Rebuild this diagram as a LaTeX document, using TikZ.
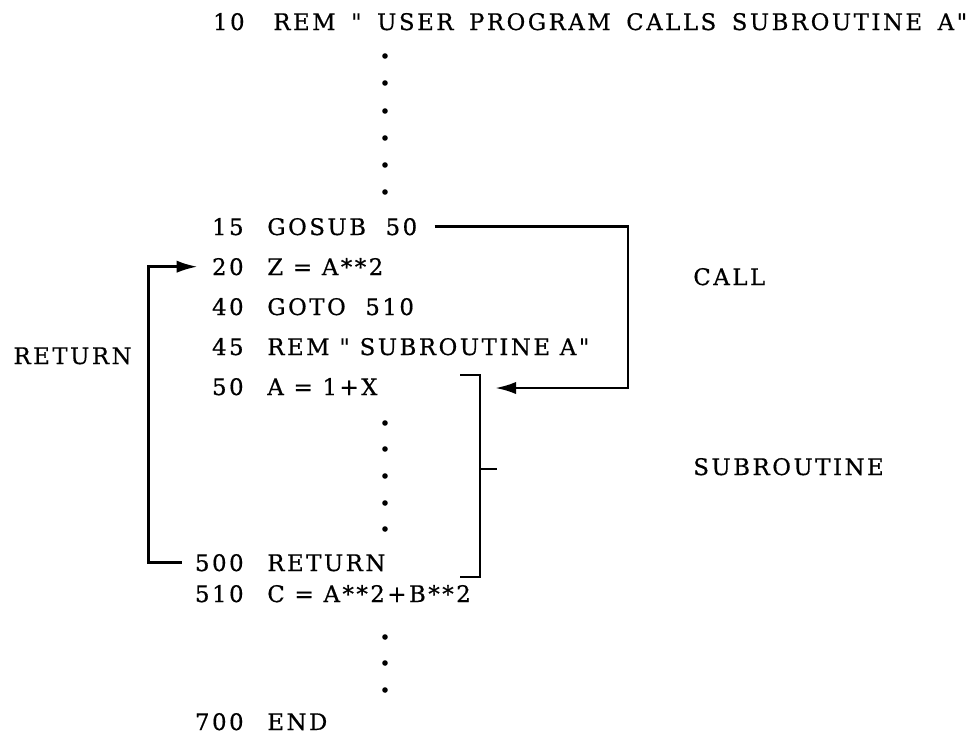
\documentclass[tikz,border=0pt]{standalone}
\usepackage{fontspec}
\setmainfont{DejaVu Serif}[LetterSpace=11, Ligatures=TeXOff, FakeBold=0.6]
\usetikzlibrary{arrows.meta,positioning}

\begin{document}
\begin{tikzpicture}[
    x=0.02cm, y=-0.02cm,
    code/.style = {inner sep=0pt, font=\fontsize{13}{15}\selectfont},
    num/.style = {code, anchor=base east},
    stmt/.style = {code, anchor=base west},
    tag/.style = {code, anchor=base west},
    line/.style = {draw, line width=1.6pt, -{Latex[length=12pt,width=7pt]}},
    bracket/.style = {draw, line width=1.6pt}
]
\useasboundingbox (0,0) rectangle (971,738);

% program listing
\node[num] (n10) at (245,30) {10};
\node[right=0.56cm of n10.base east, stmt] (s10) {\spaceskip=0.68em REM " USER PROGRAM CALLS SUBROUTINE A"};
\node[num] (n15) at (244,235) {15};
\node[right=0.46cm of n15.base east, stmt] (s15) {GOSUB\ \ 50};
\node[num] (n20) at (244,275) {20};
\node[right=0.46cm of n20.base east, stmt] (s20) {Z = A**2};
\node[num] (n40) at (244,315) {40};
\node[right=0.46cm of n40.base east, stmt] (s40) {GOTO\ \ 510};
\node[num] (n45) at (244,355) {45};
\node[right=0.46cm of n45.base east, stmt] (s45) {REM " SUBROUTINE A"};
\node[num] (n50) at (244,395) {50};
\node[right=0.46cm of n50.base east, stmt] (s50) {A = 1+X};
\node[num] (n500) at (244,571) {500};
\node[right=0.46cm of n500.base east, stmt] (s500) {RETURN};
\node[num] (n510) at (244,602) {510};
\node[right=0.46cm of n510.base east, stmt] (s510) {C = A**2+B**2};
\node[num] (n700) at (244,730) {700};
\node[right=0.46cm of n700.base east, stmt] (s700) {END};

% elided lines
\foreach \y in {56,83,111,138,165,192,423,449,476,503,529,637,663,690}
    \fill (385,\y) circle (2.8);

% side labels
\node[tag, anchor=base east] (ret) at (132,364) {RETURN};
\node[tag] (call) at (693,285) {CALL};
\node[tag] (sub) at (693,475) {SUBROUTINE};

% call and return
\coordinate (callx) at (628,0);
\coordinate (calltip) at (495,388);
\path[line, shorten <=0.34cm] (s15.east) -- (s15.east -| callx) |- (calltip);
\path[line, shorten <=0.26cm, shorten >=0.28cm] (n500.west) -- ++(-46,0) |- (n20.west);

% subroutine bracket
\coordinate (brtop) at (480,375);
\coordinate (brbot) at (480,577);
\path[bracket] (460,375) -- (brtop) -- (brbot) -- (460,577);
\path[bracket] (480,469) -- (497,469);
\end{tikzpicture}
\end{document}
